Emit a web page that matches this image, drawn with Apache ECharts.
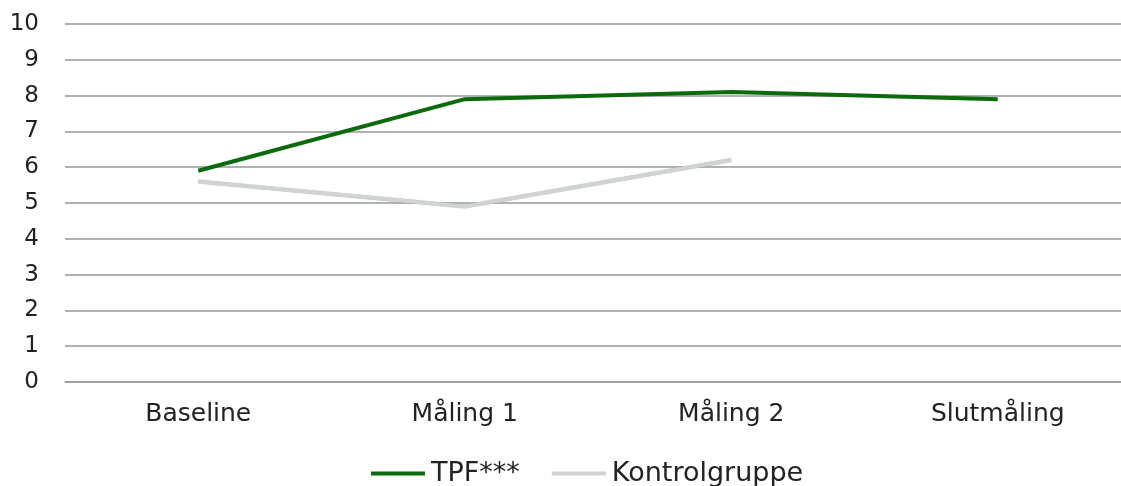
<!DOCTYPE html>
<html><head><meta charset="utf-8">
<script src="https://cdn.jsdelivr.net/npm/echarts@6/dist/echarts.min.js"></script>
<style>html,body{margin:0;padding:0;background:#fff}#c{width:1121px;height:486px}</style>
</head><body><div id="c"></div>
<script>
const categories = ['Baseline', 'Måling 1', 'Måling 2', 'Slutmåling'];
const tpf = [5.9, 7.9, 8.1, 7.9];
const kontrol = [5.6, 4.9, 6.2, null];
const seriesNames = ['TPF***', 'Kontrolgruppe'];
const FONT = '"DejaVu Sans", sans-serif';
const chart = echarts.init(document.getElementById('c'));
chart.setOption({
  animation: false,
  grid: {left: 65, width: 1066, top: 24, height: 358, outerBoundsMode: 'none', containLabel: false},
  legend: {
    top: 455, left: 366, itemWidth: 54, itemHeight: 4, itemGap: 32,
    icon: 'rect',
    textStyle: {fontFamily: FONT, fontSize: 27, color: '#222', padding: [0,0,0,1]},
    data: seriesNames
  },
  xAxis: {
    type: 'category', data: categories, boundaryGap: true,
    axisLine: {show: true, lineStyle: {color: '#999', width: 1.5}},
    axisTick: {show: false},
    axisLabel: {fontFamily: FONT, fontSize: 25, color: '#222', margin: 20}
  },
  yAxis: {
    type: 'value', min: 0, max: 10, interval: 1,
    axisLine: {show: false}, axisTick: {show: false},
    axisLabel: {fontFamily: FONT, fontSize: 23, color: '#222', margin: 26},
    splitLine: {lineStyle: {color: '#999', width: 1.5}}
  },
  series: [
    {name: seriesNames[0], type: 'line', data: tpf, symbol: 'none',
     lineStyle: {color: '#0b6a0b', width: 4}, itemStyle: {color: '#0b6a0b'}},
    {name: seriesNames[1], type: 'line', data: kontrol, symbol: 'none',
     lineStyle: {color: '#d0d3d4', width: 4, shadowColor: 'rgba(0,0,0,0.25)', shadowBlur: 1}, itemStyle: {color: '#d0d3d4'}}
  ]
});
</script></body></html>
